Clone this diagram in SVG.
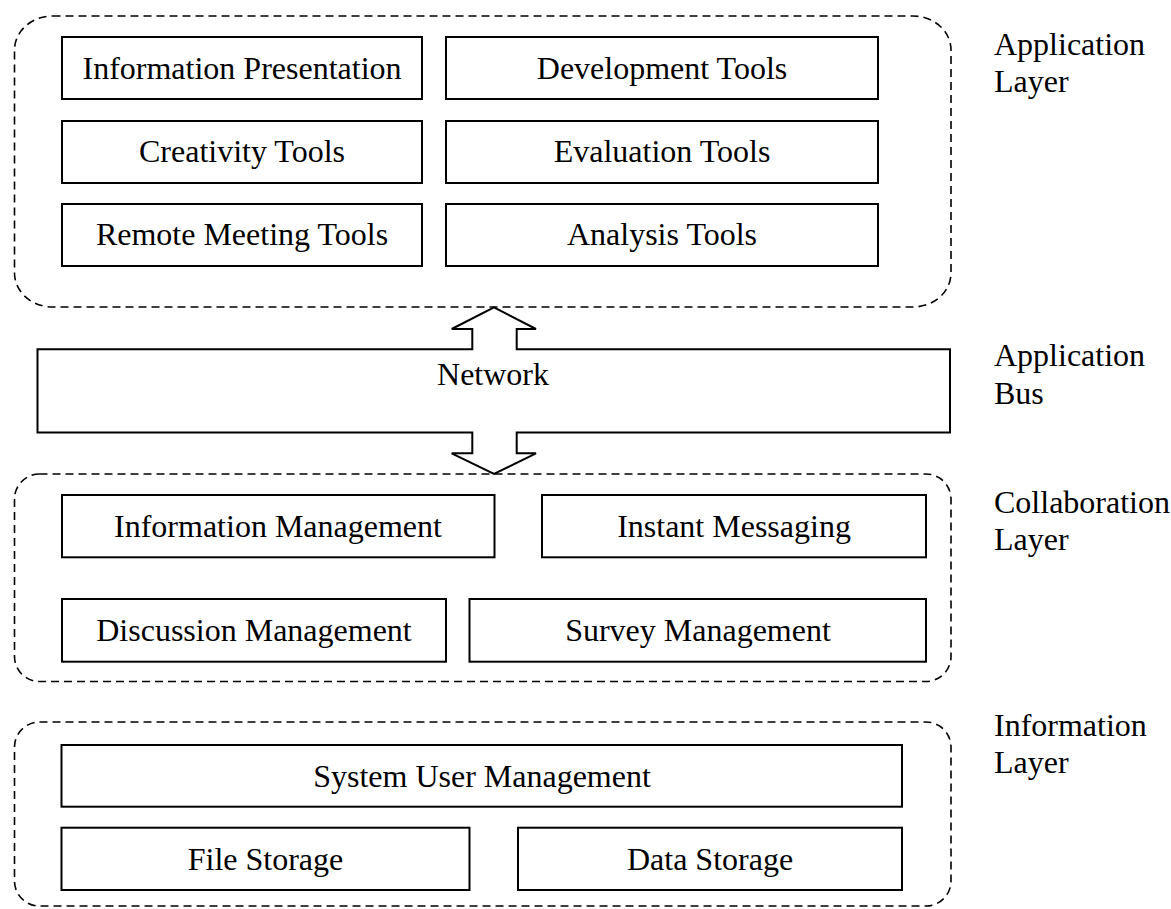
<svg xmlns="http://www.w3.org/2000/svg" width="1171" height="909" viewBox="0 0 1171 909">
  <style>
    text { font-family: "Liberation Serif", "Times New Roman", serif; font-size: 32px; fill: #000; }
    .c { text-anchor: middle; }
    .box { fill: #fff; stroke: #000; stroke-width: 2; }
    .layer { fill: none; stroke: #000; stroke-width: 1.6; stroke-dasharray: 8 5; }
    .bus { fill: #fff; stroke: #000; stroke-width: 2; stroke-linejoin: miter; }
  </style>

  <!-- layer frames -->
  <g id="application-layer">
    <rect class="layer" x="14.5" y="16" width="936.5" height="291" rx="38" ry="34"/>
    <text x="994" y="55">Application</text>
    <text x="994" y="92">Layer</text>
  </g>
  <g id="collaboration-layer">
    <rect class="layer" x="14.5" y="474" width="936.5" height="207.5" rx="25" ry="25"/>
    <text x="994" y="513">Collaboration</text>
    <text x="994" y="550">Layer</text>
  </g>
  <g id="information-layer">
    <rect class="layer" x="14.5" y="722" width="936.5" height="184" rx="25" ry="25"/>
    <text x="994" y="736">Information</text>
    <text x="994" y="773">Layer</text>
  </g>

  <!-- application layer tools -->
  <g id="information-presentation">
    <rect class="box" x="62" y="37" width="360" height="62"/>
    <text class="c" x="242" y="79">Information Presentation</text>
  </g>
  <g id="development-tools">
    <rect class="box" x="446" y="37" width="432" height="62"/>
    <text class="c" x="662" y="79">Development Tools</text>
  </g>
  <g id="creativity-tools">
    <rect class="box" x="62" y="121" width="360" height="62"/>
    <text class="c" x="242" y="162">Creativity Tools</text>
  </g>
  <g id="evaluation-tools">
    <rect class="box" x="446" y="121" width="432" height="62"/>
    <text class="c" x="662" y="162">Evaluation Tools</text>
  </g>
  <g id="remote-meeting-tools">
    <rect class="box" x="62" y="204" width="360" height="62"/>
    <text class="c" x="242" y="245">Remote Meeting Tools</text>
  </g>
  <g id="analysis-tools">
    <rect class="box" x="446" y="204" width="432" height="62"/>
    <text class="c" x="662" y="245">Analysis Tools</text>
  </g>

  <!-- application bus with its two-way arrows -->
  <g id="connectors">
    <g id="network">
      <path class="bus" d="M37.5,349.3 H472.3 V329 H451.7 L494,307.3 L536,329 H516.7 V349.3 H950 V432.5 H516.7 V453.3 H536 L494,474 L451.7,453.3 H472.3 V432.5 H37.5 Z"/>
      <text class="c" x="493" y="385">Network</text>
    </g>
  </g>
  <g id="application-bus-label">
    <text x="994" y="366">Application</text>
    <text x="994" y="404">Bus</text>
  </g>

  <!-- collaboration layer services -->
  <g id="information-management">
    <rect class="box" x="62" y="495" width="432.5" height="62.3"/>
    <text class="c" x="278" y="537">Information Management</text>
  </g>
  <g id="instant-messaging">
    <rect class="box" x="542" y="495" width="384" height="62.3"/>
    <text class="c" x="734" y="537">Instant Messaging</text>
  </g>
  <g id="discussion-management">
    <rect class="box" x="62" y="599" width="384" height="62.7"/>
    <text class="c" x="254" y="641">Discussion Management</text>
  </g>
  <g id="survey-management">
    <rect class="box" x="469.5" y="599" width="456.5" height="62.7"/>
    <text class="c" x="698" y="641">Survey Management</text>
  </g>

  <!-- information layer services -->
  <g id="system-user-management">
    <rect class="box" x="61.5" y="745" width="840.5" height="61.7"/>
    <text class="c" x="482" y="787">System User Management</text>
  </g>
  <g id="file-storage">
    <rect class="box" x="61.5" y="827.7" width="408" height="62.3"/>
    <text class="c" x="265.5" y="870">File Storage</text>
  </g>
  <g id="data-storage">
    <rect class="box" x="518" y="827.7" width="384" height="62.3"/>
    <text class="c" x="710" y="870">Data Storage</text>
  </g>
</svg>
